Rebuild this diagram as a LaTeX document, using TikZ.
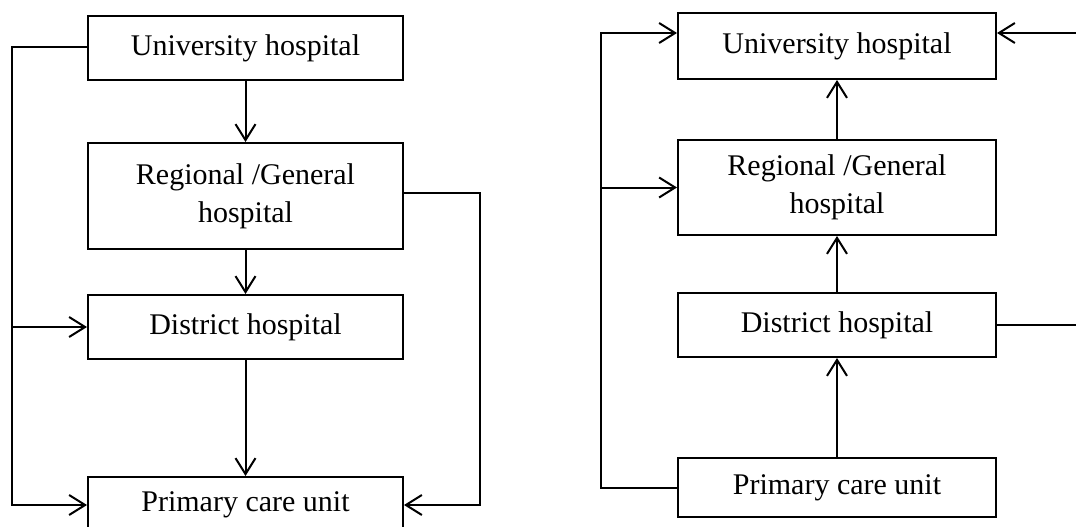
\documentclass[tikz,border=0pt]{standalone}
\usepackage{fontspec}
\setmainfont{Liberation Serif}
\usetikzlibrary{arrows.meta}
\begin{document}
\begin{tikzpicture}[x=1pt,y=-1pt,
  box/.style={draw,line width=2pt,inner sep=0pt,align=center,
    font=\fontsize{30}{38}\selectfont},
  conn/.style={line width=2pt},
  arr/.style={conn,-{Straight Barb[length=16pt,width=20pt,line width=2pt]}}]
\useasboundingbox (0,0) rectangle (1076,527);
% left panel
\node[box,minimum width=315pt,minimum height=64pt] (u) at (245.5,48) {University hospital};
\node[box,minimum width=315pt,minimum height=106pt] (r) at (245.5,196) {Regional /General\\hospital};
\node[box,minimum width=315pt,minimum height=64pt] (d) at (245.5,327) {District hospital};
\node[box,minimum width=315pt,minimum height=56pt] (p) at (245.5,505) {Primary care unit};
\draw[arr] (u) -- (r);
\draw[arr] (r) -- (d);
\draw[arr] (d) -- (p);
\coordinate (ll) at (12,47);
\coordinate (rl) at (480,193);
\draw[arr] (u.west |- ll) -- (ll) |- (p.west);
\draw[arr] (d.west -| ll) -- (d.west);
\draw[arr] (r.east |- rl) -- (rl) |- (p.east);
% right panel
\node[box,minimum width=318pt,minimum height=66pt] (u2) at (837,46) {University hospital};
\node[box,minimum width=318pt,minimum height=95pt] (r2) at (837,187.5) {Regional /General\\hospital};
\node[box,minimum width=318pt,minimum height=64pt] (d2) at (837,325) {District hospital};
\node[box,minimum width=318pt,minimum height=59pt] (p2) at (837,487.5) {Primary care unit};
\draw[arr] (p2) -- (d2);
\draw[arr] (d2) -- (r2);
\draw[arr] (r2) -- (u2);
\coordinate (lt) at (601,33);
\coordinate (rt) at (1080,33);
\draw[arr] (p2.west) -| (lt) -- (u2.west |- lt);
\draw[arr] (r2.west -| lt) -- (r2.west);
\draw[arr] (rt) -- (u2.east |- rt);
\draw[conn] (d2.east) -- (d2.east -| rt);
\end{tikzpicture}
\end{document}
